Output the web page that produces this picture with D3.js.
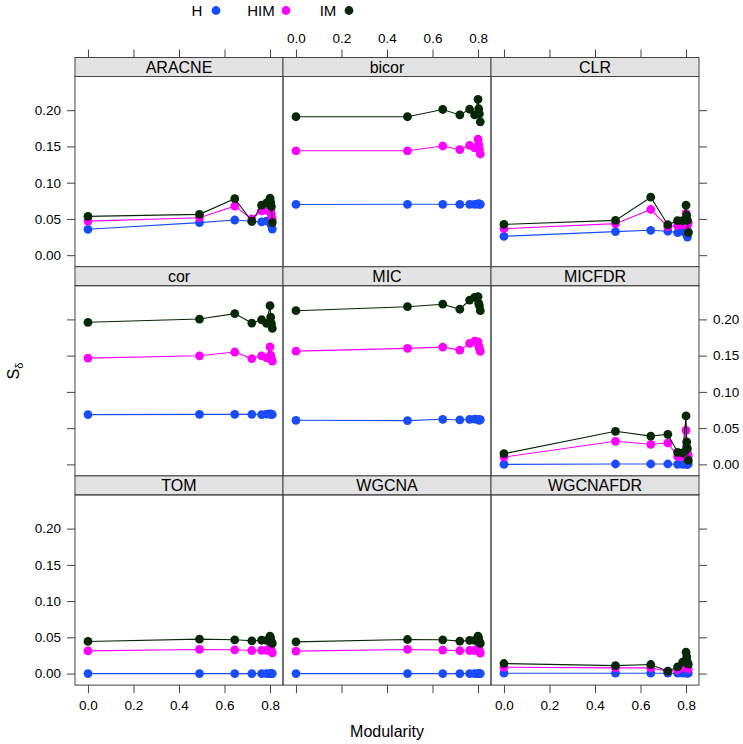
<!DOCTYPE html>
<html><head><meta charset="utf-8">
<script src="https://cdn.jsdelivr.net/npm/d3@7"></script>
<style>body{margin:0;background:#fff}svg{display:block}text{font-family:"Liberation Sans",Arial,Helvetica,sans-serif}</style>
</head><body>
<script>
const methods = ["ARACNE","bicor","CLR","cor","MIC","MICFDR","TOM","WGCNA","WGCNAFDR"];
const seriesNames = ["H","HIM","IM"];
const seriesColors = ["#1a4cff","#ff00ff","#062806"];
const modularity = [0, 0.49, 0.645, 0.72, 0.763, 0.785, 0.80, 0.803, 0.806, 0.81];
const xTicks = [0, 0.2, 0.4, 0.6, 0.8];
const yTicks = [0, 0.05, 0.10, 0.15, 0.20];

const valuesH = [
  [0.0357,0.0449,0.0485,0.0467,0.046,0.047,0.048,0.045,0.041,0.036],
  [0.070,0.0702,0.0702,0.070,0.070,0.0702,0.0705,0.071,0.0705,0.0702],
  [0.026,0.0325,0.0343,0.033,0.031,0.033,0.031,0.028,0.025,0.032],
  [0.0687,0.069,0.069,0.069,0.0687,0.0692,0.0695,0.069,0.0692,0.0688],
  [0.0608,0.0604,0.0622,0.0613,0.0622,0.0625,0.0622,0.0613,0.0608,0.0617],
  [0,0.0005,0.0005,0.0005,0,0,0.001,0,0,0.0005],
  [0,0,0,0,0,0,0,0,0,0],
  [0,0,0,0,0,0,0,0,0,0],
  [0.0005,0.0005,0.0005,0.0005,0.0005,0.0005,0.001,0.0005,0.0005,0.0005]
];
const valuesHIM = [
  [0.047,0.0517,0.0677,0.050,0.061,0.062,0.068,0.061,0.056,0.050],
  [0.144,0.144,0.1506,0.1455,0.1514,0.148,0.160,0.153,0.146,0.1396],
  [0.0366,0.0435,0.063,0.039,0.041,0.042,0.0577,0.048,0.041,0.045],
  [0.1466,0.1498,0.155,0.146,0.1498,0.147,0.162,0.1507,0.146,0.1424],
  [0.1562,0.160,0.1618,0.1576,0.1668,0.170,0.169,0.163,0.160,0.1558],
  [0.0101,0.0318,0.0277,0.0295,0.011,0.011,0.047,0.024,0.0157,0.012],
  [0.0313,0.0333,0.0328,0.0318,0.032,0.032,0.036,0.0333,0.031,0.0286],
  [0.031,0.0333,0.0324,0.0315,0.0318,0.0318,0.0356,0.0333,0.0305,0.0283],
  [0.0087,0.0078,0.0078,0.0032,0.0055,0.0087,0.0184,0.013,0.0087,0.0064]
];
const valuesIM = [
  [0.0535,0.0563,0.078,0.0467,0.069,0.072,0.0787,0.073,0.067,0.045],
  [0.191,0.191,0.201,0.1935,0.2013,0.1935,0.215,0.202,0.195,0.184],
  [0.0425,0.048,0.080,0.042,0.0476,0.0476,0.069,0.055,0.048,0.031],
  [0.196,0.2005,0.208,0.195,0.1995,0.1945,0.219,0.203,0.1945,0.1876],
  [0.212,0.2175,0.221,0.214,0.2267,0.2304,0.2313,0.222,0.219,0.212],
  [0.0147,0.0456,0.039,0.0415,0.0166,0.0157,0.0668,0.0309,0.0217,0.0055],
  [0.0443,0.0475,0.0466,0.0452,0.046,0.0457,0.0517,0.0485,0.044,0.0416],
  [0.0438,0.047,0.0466,0.0448,0.0457,0.0457,0.0517,0.0485,0.044,0.0416],
  [0.0139,0.011,0.0125,0.0032,0.0092,0.0157,0.0295,0.023,0.0157,0.0129]
];
const allValues = [valuesH, valuesHIM, valuesIM];

const W = 743, H = 744;
const svg = d3.select("body").append("svg").attr("width", W).attr("height", H);

const left = 75, colW = 208, top0 = 57.5, rowH = 209.2, stripH = 19;
const border = "#444";

// Legend
const legendItems = [{t:"H", tx:197, px:216},{t:"HIM", tx:261, px:286},{t:"IM", tx:328, px:349}];
legendItems.forEach((d,i) => {
  svg.append("text").attr("x", d.tx).attr("y", 15.5).attr("text-anchor","middle")
    .attr("font-size", 15).attr("fill","#000").text(d.t);
  svg.append("circle").attr("cx", d.px).attr("cy", 10.5).attr("r", 4.4).attr("fill", seriesColors[i]);
});

methods.forEach((m, k) => {
  const col = k % 3, row = Math.floor(k / 3);
  const x0 = left + col * colW;
  const sTop = top0 + row * rowH;
  const pTop = sTop + stripH, pBot = sTop + rowH;
  const x = d3.scaleLinear().domain([-0.057, 0.857]).range([x0, x0 + colW]);
  const y = d3.scaleLinear().domain([-0.0159, 0.2465]).range([pBot, pTop]);
  const g = svg.append("g");

  // strip
  g.append("rect").attr("x", x0).attr("y", sTop).attr("width", colW).attr("height", stripH)
    .attr("fill", "#e3e3e3").attr("stroke", border).attr("stroke-width", 1);
  g.append("text").attr("x", x0 + colW/2).attr("y", sTop + stripH/2 + 5.7).attr("text-anchor","middle")
    .attr("font-size", 16).attr("fill","#000").text(m);

  // data
  const clip = "clip" + k;
  svg.append("clipPath").attr("id", clip).append("rect")
    .attr("x", x0).attr("y", pTop).attr("width", colW).attr("height", pBot - pTop);
  const dg = g.append("g").attr("clip-path", `url(#${clip})`);
  allValues.forEach((vals, s) => {
    const pts = modularity.map((mx, i) => [mx, vals[k][i]]);
    dg.append("path").attr("d", d3.line().x(d => x(d[0])).y(d => y(d[1]))(pts))
      .attr("fill","none").attr("stroke", seriesColors[s]).attr("stroke-width", 1.1);
    dg.selectAll(null).data(pts).enter().append("circle")
      .attr("cx", d => x(d[0])).attr("cy", d => y(d[1])).attr("r", 4.4).attr("fill", seriesColors[s]);
  });

  // panel border
  g.append("rect").attr("x", x0).attr("y", pTop).attr("width", colW).attr("height", pBot - pTop)
    .attr("fill","none").attr("stroke", border).attr("stroke-width", 1);

  // axes
  const tickFmt = d3.format(".2f");
  if (col === 0) {
    const ax = d3.axisLeft(y).tickValues(yTicks).tickSize(8).tickPadding(6)
      .tickFormat(row === 1 ? () => "" : tickFmt);
    const a = svg.append("g").attr("transform", `translate(${x0},0)`).call(ax);
    a.select(".domain").remove();
  }
  if (col === 2) {
    const ax = d3.axisRight(y).tickValues(yTicks).tickSize(8).tickPadding(6)
      .tickFormat(row === 1 ? tickFmt : () => "");
    const a = svg.append("g").attr("transform", `translate(${x0 + colW},0)`).call(ax);
    a.select(".domain").remove();
  }
  if (row === 0) {
    const ax = d3.axisTop(x).tickValues(xTicks).tickSize(8).tickPadding(7)
      .tickFormat(col === 1 ? d3.format(".1f") : () => "");
    const a = svg.append("g").attr("transform", `translate(0,${sTop})`).call(ax);
    a.select(".domain").remove();
  }
  if (row === 2) {
    const ax = d3.axisBottom(x).tickValues(xTicks).tickSize(8).tickPadding(7)
      .tickFormat(col === 1 ? () => "" : d3.format(".1f"));
    const a = svg.append("g").attr("transform", `translate(0,${pBot})`).call(ax);
    a.select(".domain").remove();
  }
});

svg.selectAll(".tick line").attr("stroke", border);
svg.selectAll(".tick text").attr("font-size", 13.5).attr("fill", "#000")
  .attr("font-family", '"Liberation Sans",Arial,sans-serif');

// axis titles
svg.append("text").attr("x", 387).attr("y", 737).attr("text-anchor","middle")
  .attr("font-size", 16).attr("fill","#000").text("Modularity");
const yl = svg.append("text").attr("transform","translate(19,371) rotate(-90)")
  .attr("text-anchor","middle").attr("font-size", 16).attr("fill","#000");
yl.append("tspan").text("S");
yl.append("tspan").attr("font-size", 11).attr("dy", 4).text("δ");
</script>
</body></html>
